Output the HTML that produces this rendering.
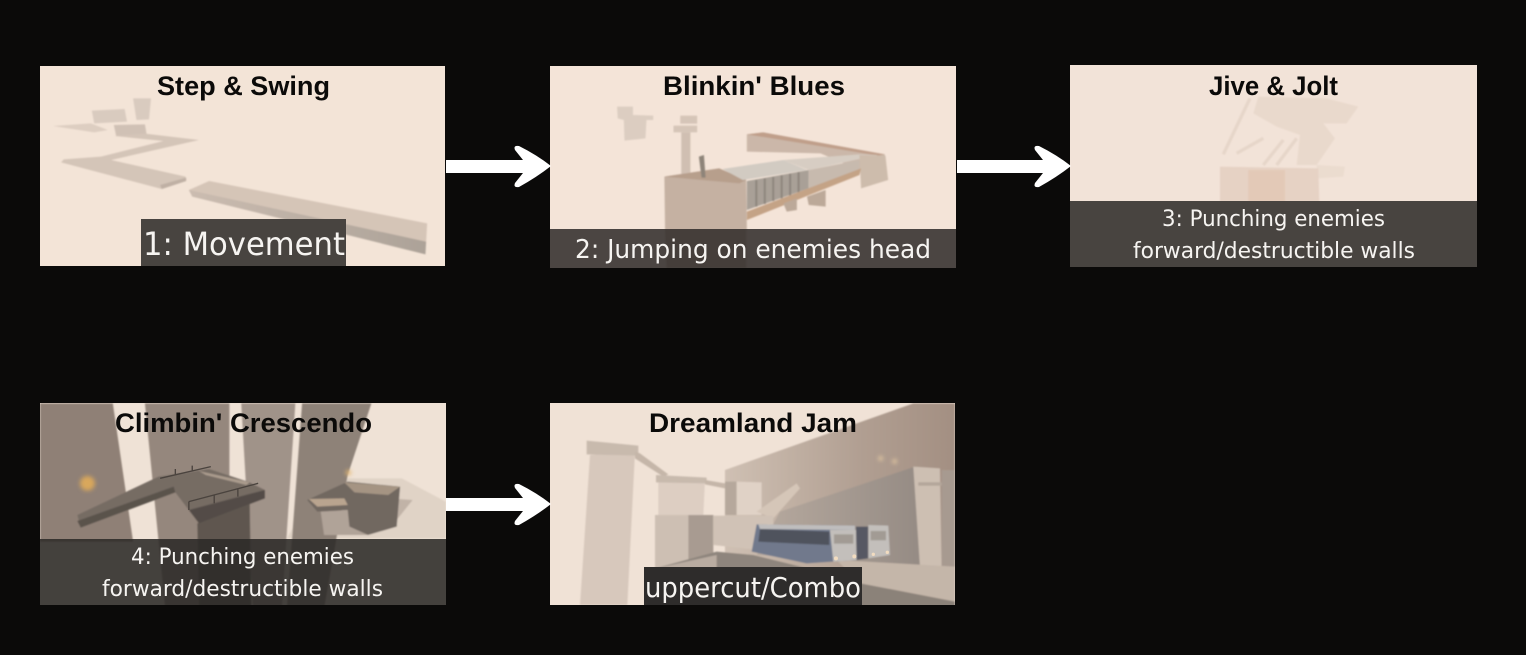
<!DOCTYPE html>
<html><head><meta charset="utf-8"><style>
html,body{margin:0;padding:0;background:#0b0a09;width:1526px;height:655px;overflow:hidden}
svg{display:block}
.t{font-family:"Liberation Sans",sans-serif;font-weight:bold;font-size:27px;fill:#0b0a09}
.c{font-family:"DejaVu Sans",sans-serif;fill:#f6f4f1}
</style></head><body>
<svg width="1526" height="655" viewBox="0 0 1526 655" xmlns="http://www.w3.org/2000/svg">
<defs>
<filter id="b" x="-5%" y="-5%" width="110%" height="110%"><feGaussianBlur stdDeviation="2.5"/></filter>
<filter id="g" x="-100%" y="-100%" width="300%" height="300%"><feGaussianBlur stdDeviation="6"/></filter>
<linearGradient id="brick" x1="0" y1="0" x2="1" y2="0"><stop offset="0" stop-color="#cfc0b3"/><stop offset=".6" stop-color="#b09e91"/><stop offset="1" stop-color="#a38f82"/></linearGradient>
<linearGradient id="dwall" x1="0" y1="0" x2="1" y2="0"><stop offset="0" stop-color="#b7aa9f"/><stop offset="1" stop-color="#958b84"/></linearGradient>
<linearGradient id="plank" x1="0" y1="0" x2="1" y2="0"><stop offset="0" stop-color="#cbbcb0"/><stop offset="1" stop-color="#aca298"/></linearGradient>
<clipPath id="c1"><rect x="40" y="66" width="405" height="200"/></clipPath>
<clipPath id="c2"><rect x="550" y="66" width="406" height="202"/></clipPath>
<clipPath id="c3"><rect x="1070" y="65" width="407" height="202"/></clipPath>
<clipPath id="c4"><rect x="40" y="403" width="406" height="202"/></clipPath>
<clipPath id="c5"><rect x="550" y="403" width="405" height="202"/></clipPath>
</defs>
<rect width="1526" height="655" fill="#0b0a09"/>

<!-- Card 1 -->
<g clip-path="url(#c1)">
<rect x="40" y="66" width="405" height="200" fill="#f3e4d7"/>
<g transform="translate(30,55) scale(.338,.3333)" filter="url(#b)">
<polygon points="68,213 180,205 230,225 190,232" fill="#ddcec1"/>
<polygon points="183,167 280,162 287,200 190,205" fill="#d9cbbf"/>
<polygon points="305,130 358,130 352,193 315,195" fill="#d9cbbf"/>
<polygon points="248,210 340,208 345,238 255,243" fill="#d0c1b5"/>
<polygon points="340,236 500,255 240,315 460,365 462,378 390,402 92,322 100,313 210,305 395,258 250,243" fill="#d4c5b8"/>
<polygon points="462,368 462,378 390,402 385,390" fill="#bfb0a4"/>
<polygon points="470,405 530,378 1175,505 1172,560 480,420" fill="#d5c5b7"/>
<polygon points="470,405 1172,560 1170,598 480,425" fill="url(#plank)"/>
</g>
</g>
<rect x="141" y="219" width="205" height="47" fill="#484440"/>
<text class="c" x="143" y="255" font-size="32" textLength="202" lengthAdjust="spacingAndGlyphs">1: Movement</text>
<text class="t" x="157" y="95" textLength="173" lengthAdjust="spacingAndGlyphs">Step &amp; Swing</text>

<!-- Card 2 -->
<g clip-path="url(#c2)">
<rect x="550" y="66" width="406" height="202" fill="#f4e4d8"/>
<g transform="translate(540,55) scale(.338,.3333)" filter="url(#b)">
<polygon points="228,155 275,155 275,180 335,182 335,195 315,195 312,250 250,257 248,195 230,190" fill="#dccdc1"/>
<rect x="415" y="182" width="50" height="24" fill="#d5c5b8"/>
<rect x="395" y="212" width="70" height="20" fill="#d5c5b8"/>
<rect x="418" y="232" width="27" height="125" fill="#d0bfb2"/>
<polygon points="612,238 660,232 1020,298 1020,310 945,345 830,295 612,290" fill="#cbb7a9"/>
<polygon points="612,238 660,232 1020,298 1000,302" fill="#c09f8a"/>
<polygon points="368,365 530,340 610,375 612,525 370,525" fill="#c5b1a2"/>
<polygon points="368,365 530,340 610,375 590,385" fill="#b79f8c"/>
<polygon points="540,342 720,315 790,345 600,375" fill="#d2cbc2"/>
<polygon points="720,315 945,298 1000,300 795,345" fill="#d7cdc3"/>
<polygon points="612,378 795,345 795,400 612,465" fill="#a9a097"/>
<path d="M640,375V455M665,370V447M690,366V438M715,361V430M740,356V422M765,351V412" stroke="#8d857d" stroke-width="6"/>
<polygon points="795,345 945,315 945,345 795,400" fill="#c7baae"/>
<polygon points="945,300 1022,302 1030,375 950,400" fill="#cdbcac"/>
<polygon points="612,470 950,340 945,360 612,495" fill="#c4a386"/>
<polygon points="720,445 760,430 760,465 730,470" fill="#bca999"/>
<polygon points="790,425 845,405 845,455 795,450" fill="#bca999"/>
<polygon points="470,305 485,300 490,368 478,368" fill="#8e8479"/>
<polygon points="370,525 610,525 610,640 375,640" fill="#c0ac9d"/>
</g>
</g>
<rect x="550" y="229" width="406" height="39" fill="#332f2c" fill-opacity=".88"/>
<text class="c" x="575" y="258" font-size="26" textLength="356" lengthAdjust="spacingAndGlyphs">2: Jumping on enemies head</text>
<text class="t" x="663" y="95" textLength="182" lengthAdjust="spacingAndGlyphs">Blinkin' Blues</text>

<!-- Card 3 -->
<g clip-path="url(#c3)">
<rect x="1070" y="65" width="407" height="202" fill="#f2e3d8"/>
<g transform="translate(1050,55) scale(.3333)" filter="url(#b)">
<polygon points="625,125 830,130 925,155 890,205 820,205 855,250 800,330 740,330 750,240 680,215 610,175" fill="#e9d9cc"/>
<path d="M600,130L520,298M640,250L560,295M700,255L640,330M740,250L680,330" stroke="#e6d6c9" stroke-width="10" fill="none"/>
<polygon points="800,330 885,335 880,365 800,370" fill="#ebdccf"/>
<polygon points="510,335 805,340 808,440 510,440" fill="#e6d2c4"/>
<polygon points="595,345 705,345 705,440 595,440" fill="#e3c9b7"/>
</g>
</g>
<rect x="1070" y="201" width="407" height="66" fill="#484440"/>
<text class="c" x="1162" y="226" font-size="22.5" textLength="223" lengthAdjust="spacingAndGlyphs">3: Punching enemies</text>
<text class="c" x="1133" y="258" font-size="22.5" textLength="282" lengthAdjust="spacingAndGlyphs">forward/destructible walls</text>
<text class="t" x="1209" y="95" textLength="129" lengthAdjust="spacingAndGlyphs">Jive &amp; Jolt</text>

<!-- Card 4 -->
<g clip-path="url(#c4)">
<rect x="40" y="403" width="406" height="202" fill="#efe2d6"/>
<g transform="translate(30,395) scale(.338,.3333)">
<g filter="url(#b)">
<polygon points="860,250 1100,250 1230,320 1230,430 760,430" fill="#e0d3c6"/>
<polygon points="30,25 245,25 305,440 30,440" fill="#8f8076"/>
<polygon points="340,25 590,25 590,640 400,640" fill="#95877d"/>
<polygon points="625,25 785,25 745,640 660,640" fill="#a09389"/>
<polygon points="805,25 1010,25 940,240 870,640 760,640" fill="#8e8278"/>
<polygon points="1090,312 1132,315 1065,400 1040,400" fill="#c1b3a7"/>
<polygon points="860,350 945,345 945,395 1000,420 870,420" fill="#b0a398"/>
<polygon points="820,315 940,260 1095,275 1085,395 1000,420 945,395 940,345 850,350" fill="#716860"/>
<polygon points="825,312 930,310 940,330 850,335" fill="#b9a48f"/>
<polygon points="930,262 1095,275 1060,300 960,292" fill="#a59483"/>
<polygon points="495,385 650,320 655,640 500,640" fill="#5f5650"/>
<polygon points="140,360 380,245 530,222 650,262 695,285 695,310 500,385 470,345 430,292 150,398" fill="#766c64"/>
<polygon points="500,228 650,262 640,270 520,240" fill="#aa9b8d"/>
<polygon points="430,292 150,398 140,378 425,275" fill="#5a524c"/>
<polygon points="430,292 470,345 695,285 695,310 500,385" fill="#534b46"/>
</g>
<path d="M470,320L675,265M385,250L535,215M470,345V320M545,325V300M615,305V280M430,240V222M480,228V212" stroke="#4a433e" stroke-width="4" fill="none"/>
<circle cx="170" cy="265" r="22" fill="#d9a75c" filter="url(#g)"/>
<circle cx="942" cy="233" r="8" fill="#e5b770" filter="url(#g)"/>
</g>
</g>
<rect x="40" y="539" width="406" height="66" fill="#2c2a28" fill-opacity=".88"/>
<text class="c" x="131" y="564" font-size="22.5" textLength="223" lengthAdjust="spacingAndGlyphs">4: Punching enemies</text>
<text class="c" x="102" y="596" font-size="22.5" textLength="281" lengthAdjust="spacingAndGlyphs">forward/destructible walls</text>
<text class="t" x="115" y="432" textLength="257" lengthAdjust="spacingAndGlyphs">Climbin' Crescendo</text>

<!-- Card 5 -->
<g clip-path="url(#c5)">
<rect x="550" y="403" width="405" height="202" fill="#f0e2d6"/>
<g transform="translate(540,395) scale(.3333)">
<g filter="url(#b)">
<polygon points="555,225 1120,25 1245,25 1245,640 555,640" fill="url(#brick)"/>
<polygon points="720,350 1125,215 1140,510 650,480" fill="url(#dwall)"/>
<polygon points="1120,215 1200,220 1205,515 1140,515" fill="#cdbfb2"/>
<rect x="1205" y="225" width="40" height="295" fill="#a79a90"/>
<rect x="1135" y="262" width="70" height="10" fill="#b3a69a"/>
<polygon points="120,630 150,180 285,170 262,630" fill="#d7c8bc"/>
<polygon points="140,137 295,152 295,182 140,178" fill="#c8baad"/>
<polygon points="285,170 300,175 385,238 370,245 285,190" fill="#c5b6a9"/>
<polygon points="355,250 495,255 490,360 355,360" fill="#ddcec2"/>
<polygon points="348,240 500,248 500,265 348,262" fill="#c8baad"/>
<polygon points="495,255 555,265 555,280 495,268" fill="#c5b6a9"/>
<polygon points="555,260 590,260 590,360 555,360" fill="#b6a89c"/>
<polygon points="590,260 665,262 665,360 590,360" fill="#e0d2c6"/>
<polygon points="650,350 770,265 780,280 700,370" fill="#d5c6b8"/>
<polygon points="345,360 445,360 445,520 345,520" fill="#cdbfb3"/>
<polygon points="445,360 520,360 520,470 530,520 445,520" fill="#a89b91"/>
<polygon points="520,362 700,362 700,470 520,450" fill="#d0c2b6"/>
<polygon points="345,520 530,470 640,480 1245,630 345,640" fill="#8e857d"/>
<polygon points="345,520 530,480 530,640 345,640" fill="#b9aca1"/>
<polygon points="890,495 1245,515 1245,620 960,565" fill="#c4b6a9"/>
<polygon points="960,565 1245,620 1245,640 960,640" fill="#8b8279"/>
<polygon points="650,388 945,392 950,495 800,505 635,470" fill="#71798c"/>
<polygon points="655,388 945,392 945,405 660,402" fill="#bfbdbd"/>
<polygon points="660,402 868,410 868,450 655,440" fill="#4f535d"/>
<polygon points="870,405 948,405 950,495 880,500" fill="#c3bfbb"/>
<rect x="882" y="418" width="58" height="28" fill="#a29b94"/>
<polygon points="948,395 985,395 985,490 950,495" fill="#565964"/>
<polygon points="985,390 1045,392 1050,480 985,490" fill="#c3bfbb"/>
<rect x="992" y="408" width="46" height="28" fill="#a29b94"/>
</g>
<circle cx="888" cy="490" r="6" fill="#f2dcc0"/><circle cx="943" cy="484" r="6" fill="#f2dcc0"/>
<circle cx="1000" cy="478" r="5" fill="#f2dcc0"/><circle cx="1042" cy="472" r="5" fill="#f2dcc0"/>
<circle cx="1022" cy="190" r="6" fill="#f3d6a8" filter="url(#g)"/>
<circle cx="1064" cy="199" r="6" fill="#f3d6a8" filter="url(#g)"/>
</g>
</g>
<rect x="644" y="567" width="218" height="38" fill="#2e2c2b"/>
<text class="c" x="645" y="597" font-size="28" textLength="216" lengthAdjust="spacingAndGlyphs">uppercut/Combo</text>
<text class="t" x="649" y="432" textLength="208" lengthAdjust="spacingAndGlyphs">Dreamland Jam</text>

<!-- Arrows: solid rounded heads with a shallow notch -->
<path d="M446,160 H523 L515,150 Q513,145 519,146 Q537,155 551,166 Q537,177 519,187 Q513,188 515,183 L523,173 H446Z" fill="#fff"/>
<path d="M957,160 H1043 L1035,150 Q1033,145 1039,146 Q1057,155 1071,166 Q1057,177 1039,187 Q1033,188 1035,183 L1043,173 H957Z" fill="#fff"/>
<path d="M446,498 H523 L515,488 Q513,483 519,484 Q537,493 551,504 Q537,515 519,525 Q513,526 515,521 L523,511 H446Z" fill="#fff"/>
</svg>
</body></html>
